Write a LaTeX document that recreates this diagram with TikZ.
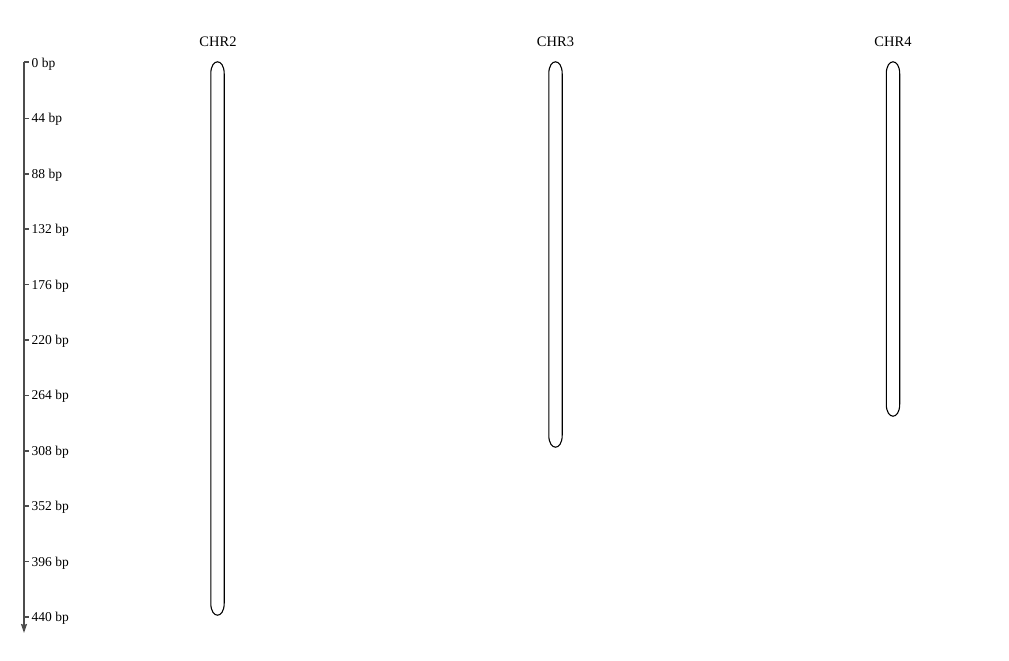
\documentclass[tikz,border=0pt]{standalone}
\usepackage{fontspec}
\setmainfont{Liberation Serif}
\usetikzlibrary{arrows.meta}
\begin{document}
\begin{tikzpicture}[x=1pt,y=-1pt,
  chromnode/.style={draw=none, minimum width=13pt, inner sep=0pt},
  chromline/.style={draw=black, line width=1.1pt, fill=white},
  chrlabel/.style={font=\fontsize{14.5}{16}\selectfont, inner sep=0pt},
  ticklabel/.style={font=\fontsize{13.5}{15}\selectfont, anchor=west, inner sep=0pt},
  axisline/.style={draw=black!70, line width=1.5pt}]
\useasboundingbox (0,0) rectangle (1009,661);
% axis
\coordinate (axtop) at (24,62);
\coordinate (axend) at (24,633);
\draw[axisline, -{Stealth[length=9pt,width=6pt,inset=1pt]}] (axtop) -- (axend);
\draw[axisline] (axtop) -- (28.5,62);
\foreach \v [count=\i from 0] in {0,44,88,132,176,220,264,308,352,396,440} {
  \pgfmathsetmacro{\yy}{63+\i*55.4}
  \coordinate (t\i) at (24,\yy);
  \ifnum\i>0 \draw[axisline] (t\i) -- ++(5,0); \fi
  \node[ticklabel] (l\i) at (31.5,\yy+1.2) {\v{} bp};
}
% chromosomes
\node[chromnode, minimum height=553pt] (c2) at (217.5,338.5) {};
\node[chromnode, minimum height=385pt] (c3) at (555.5,254.5) {};
\node[chromnode, minimum height=354pt] (c4) at (893,239) {};
\foreach \c in {c2,c3,c4} {
  \draw[chromline] ([yshift=-12pt]\c.north west)
    .. controls ([yshift=4pt]\c.north west) and ([yshift=4pt]\c.north east) .. ([yshift=-12pt]\c.north east)
    -- ([yshift=12pt]\c.south east)
    .. controls ([yshift=-4pt]\c.south east) and ([yshift=-4pt]\c.south west) .. ([yshift=12pt]\c.south west)
    -- cycle;
}
\node[chrlabel] (n2) at (218,42) {CHR2};
\node[chrlabel] (n3) at (555.5,42) {CHR3};
\node[chrlabel] (n4) at (893,42) {CHR4};
\end{tikzpicture}
\end{document}
